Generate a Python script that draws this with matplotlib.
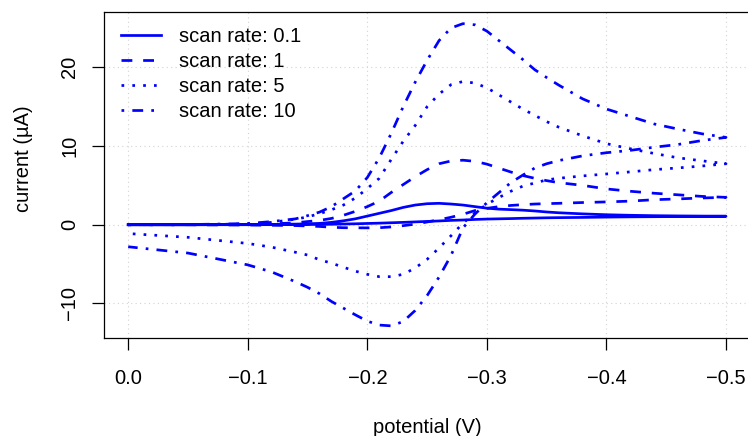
import matplotlib
matplotlib.use("Agg")
import matplotlib.pyplot as plt

plt.rcParams['font.family'] = ['Liberation Sans', 'DejaVu Sans']

# potential grid of the forward sweep (V); the reverse sweep runs back over it
potential = [0.0, -0.05, -0.10, -0.12, -0.14, -0.15, -0.16, -0.17, -0.18, -0.19,
             -0.20, -0.21, -0.22, -0.23, -0.24, -0.25, -0.26, -0.27, -0.28, -0.29,
             -0.30, -0.31, -0.32, -0.33, -0.34, -0.35, -0.36, -0.38, -0.40, -0.42,
             -0.44, -0.46, -0.48, -0.50]

scan_rates = ["0.1", "1", "5", "10"]

# current (uA), forward sweep, same order as potential
i01_fwd = [0, 0, 0.02, 0.04, 0.08, 0.12, 0.17, 0.3, 0.5, 0.75,
           1.1, 1.45, 1.8, 2.2, 2.5, 2.67, 2.72, 2.63, 2.5, 2.3,
           2.1, 1.98, 1.92, 1.85, 1.75, 1.62, 1.52, 1.38, 1.27, 1.2,
           1.15, 1.12, 1.1, 1.08]
i1_fwd = [0, 0, 0.05, 0.1, 0.25, 0.4, 0.55, 0.8, 1.2, 1.7,
          2.3, 3.0, 4.1, 5.1, 6.1, 7.0, 7.75, 8.1, 8.2, 8.05,
          7.7, 7.2, 6.7, 6.25, 5.9, 5.6, 5.35, 5.0, 4.55, 4.25,
          4.0, 3.8, 3.6, 3.48]
i5_fwd = [0, 0, 0.1, 0.3, 0.7, 1.0, 1.4, 1.9, 2.5, 3.4,
          4.6, 5.9, 8.3, 10.6, 12.6, 15.0, 16.6, 17.8, 18.2, 18.0,
          17.4, 16.5, 15.6, 14.7, 13.9, 13.1, 12.4, 11.3, 10.3, 9.65,
          9.05, 8.5, 8.12, 7.75]
i10_fwd = [0.0, 0.02, 0.15, 0.4, 0.75, 1.15, 1.6, 2.3, 3.3, 4.3,
           6.0, 8.5, 11.6, 15.0, 18.1, 20.9, 23.4, 25.0, 25.55, 25.4,
           24.6, 23.4, 22.2, 21.0, 19.7, 18.7, 17.75, 16.0, 14.7, 13.75,
           12.8, 12.15, 11.55, 11.1]

# current (uA), reverse sweep, from -0.50 V back to 0.0 V
i01_rev = [1.08, 1.06, 1.04, 1.02, 1.0, 0.97, 0.93, 0.9, 0.88, 0.85,
           0.82, 0.78, 0.75, 0.72, 0.67, 0.6, 0.55, 0.48, 0.42, 0.36,
           0.3, 0.25, 0.2, 0.16, 0.12, 0.09, 0.06, 0.04, 0.03, 0.02,
           0.01, 0.0, 0.0, 0.0]
i1_rev = [3.48, 3.4, 3.28, 3.18, 3.0, 2.9, 2.82, 2.72, 2.68, 2.63,
          2.55, 2.45, 2.3, 2.08, 1.8, 1.33, 0.95, 0.63, 0.35, 0.07,
          -0.12, -0.28, -0.38, -0.4, -0.39, -0.38, -0.32, -0.22, -0.16, -0.11,
          -0.07, -0.04, -0.01, 0.0]
i5_rev = [7.75, 7.46, 7.22, 7.0, 6.72, 6.45, 6.2, 5.9, 5.7, 5.3,
          4.9, 4.25, 3.45, 2.6, 1.5, 0.2, -1.4, -2.95, -4.4, -5.5,
          -6.3, -6.6, -6.6, -6.3, -5.9, -5.4, -4.88, -4.45, -3.85, -3.5,
          -2.85, -2.38, -1.6, -1.12]
i10_rev = [11.1, 10.7, 10.2, 9.85, 9.45, 9.15, 8.75, 8.15, 7.75, 7.2,
           6.3, 5.35, 4.07, 2.8, 1.35, -0.4, -3.9, -6.65, -9.0, -10.9,
           -12.3, -12.85, -12.75, -12.25, -11.45, -10.6, -9.75, -8.76, -7.95, -7.25,
           -6.0, -5.1, -3.6, -2.8]

x_ticks = [0.0, -0.1, -0.2, -0.3, -0.4, -0.5]
y_ticks = [-10, 0, 10, 20]

FS = 14.5

fig = plt.figure(figsize=(7.48, 4.36), dpi=100)
ax = fig.add_axes([0.1394, 0.2241, 0.8632, 0.7491])

styles = ["-", (0, (4, 4)), (0, (1, 3)), (0, (1, 3, 4, 3))]
fwd_all = [i01_fwd, i1_fwd, i5_fwd, i10_fwd]
rev_all = [i01_rev, i1_rev, i5_rev, i10_rev]

for rate, fwd, rev, ls in zip(scan_rates, fwd_all, rev_all, styles):
    ax.plot(potential + potential[::-1], fwd + rev,
            color="blue", lw=1.95, linestyle=ls,
            label="scan rate: " + rate)

ax.set_xlim(0.02, -0.52)
ax.set_ylim(-14.43, 27.07)

ax.set_xticks(x_ticks, ["%.1f" % v if v == 0 else ("%.1f" % v).replace("-", "\u2212")
                        for v in x_ticks])
ax.set_yticks(y_ticks, [str(v).replace("-", "\u2212") for v in y_ticks],
              rotation=90, va="center")

ax.grid(True, color="#D3D3D3", linestyle=(0, (1, 3)), linewidth=0.8)
ax.set_axisbelow(True)

for sp in ax.spines.values():
    sp.set_linewidth(0.9)

ax.tick_params(axis="both", direction="out", length=8.6, width=0.9,
               labelsize=FS, colors="black")
ax.tick_params(axis="x", pad=13.7)
ax.tick_params(axis="y", pad=9.4)

ax.set_xlabel("potential (V)", fontsize=FS)
ax.xaxis.set_label_coords(0.5, -0.244)
ax.set_ylabel("current (\u00b5A)", fontsize=FS)
ax.yaxis.set_label_coords(-0.1251, 0.5505)
ax.yaxis.label.set_va("center")

ax.legend(loc="upper left", bbox_to_anchor=(0.0259, 0.954), frameon=False,
          borderpad=0, borderaxespad=0, handlelength=2.0, handletextpad=0.9,
          labelspacing=0.3, fontsize=FS)

fig.savefig("out.png", dpi=100)
